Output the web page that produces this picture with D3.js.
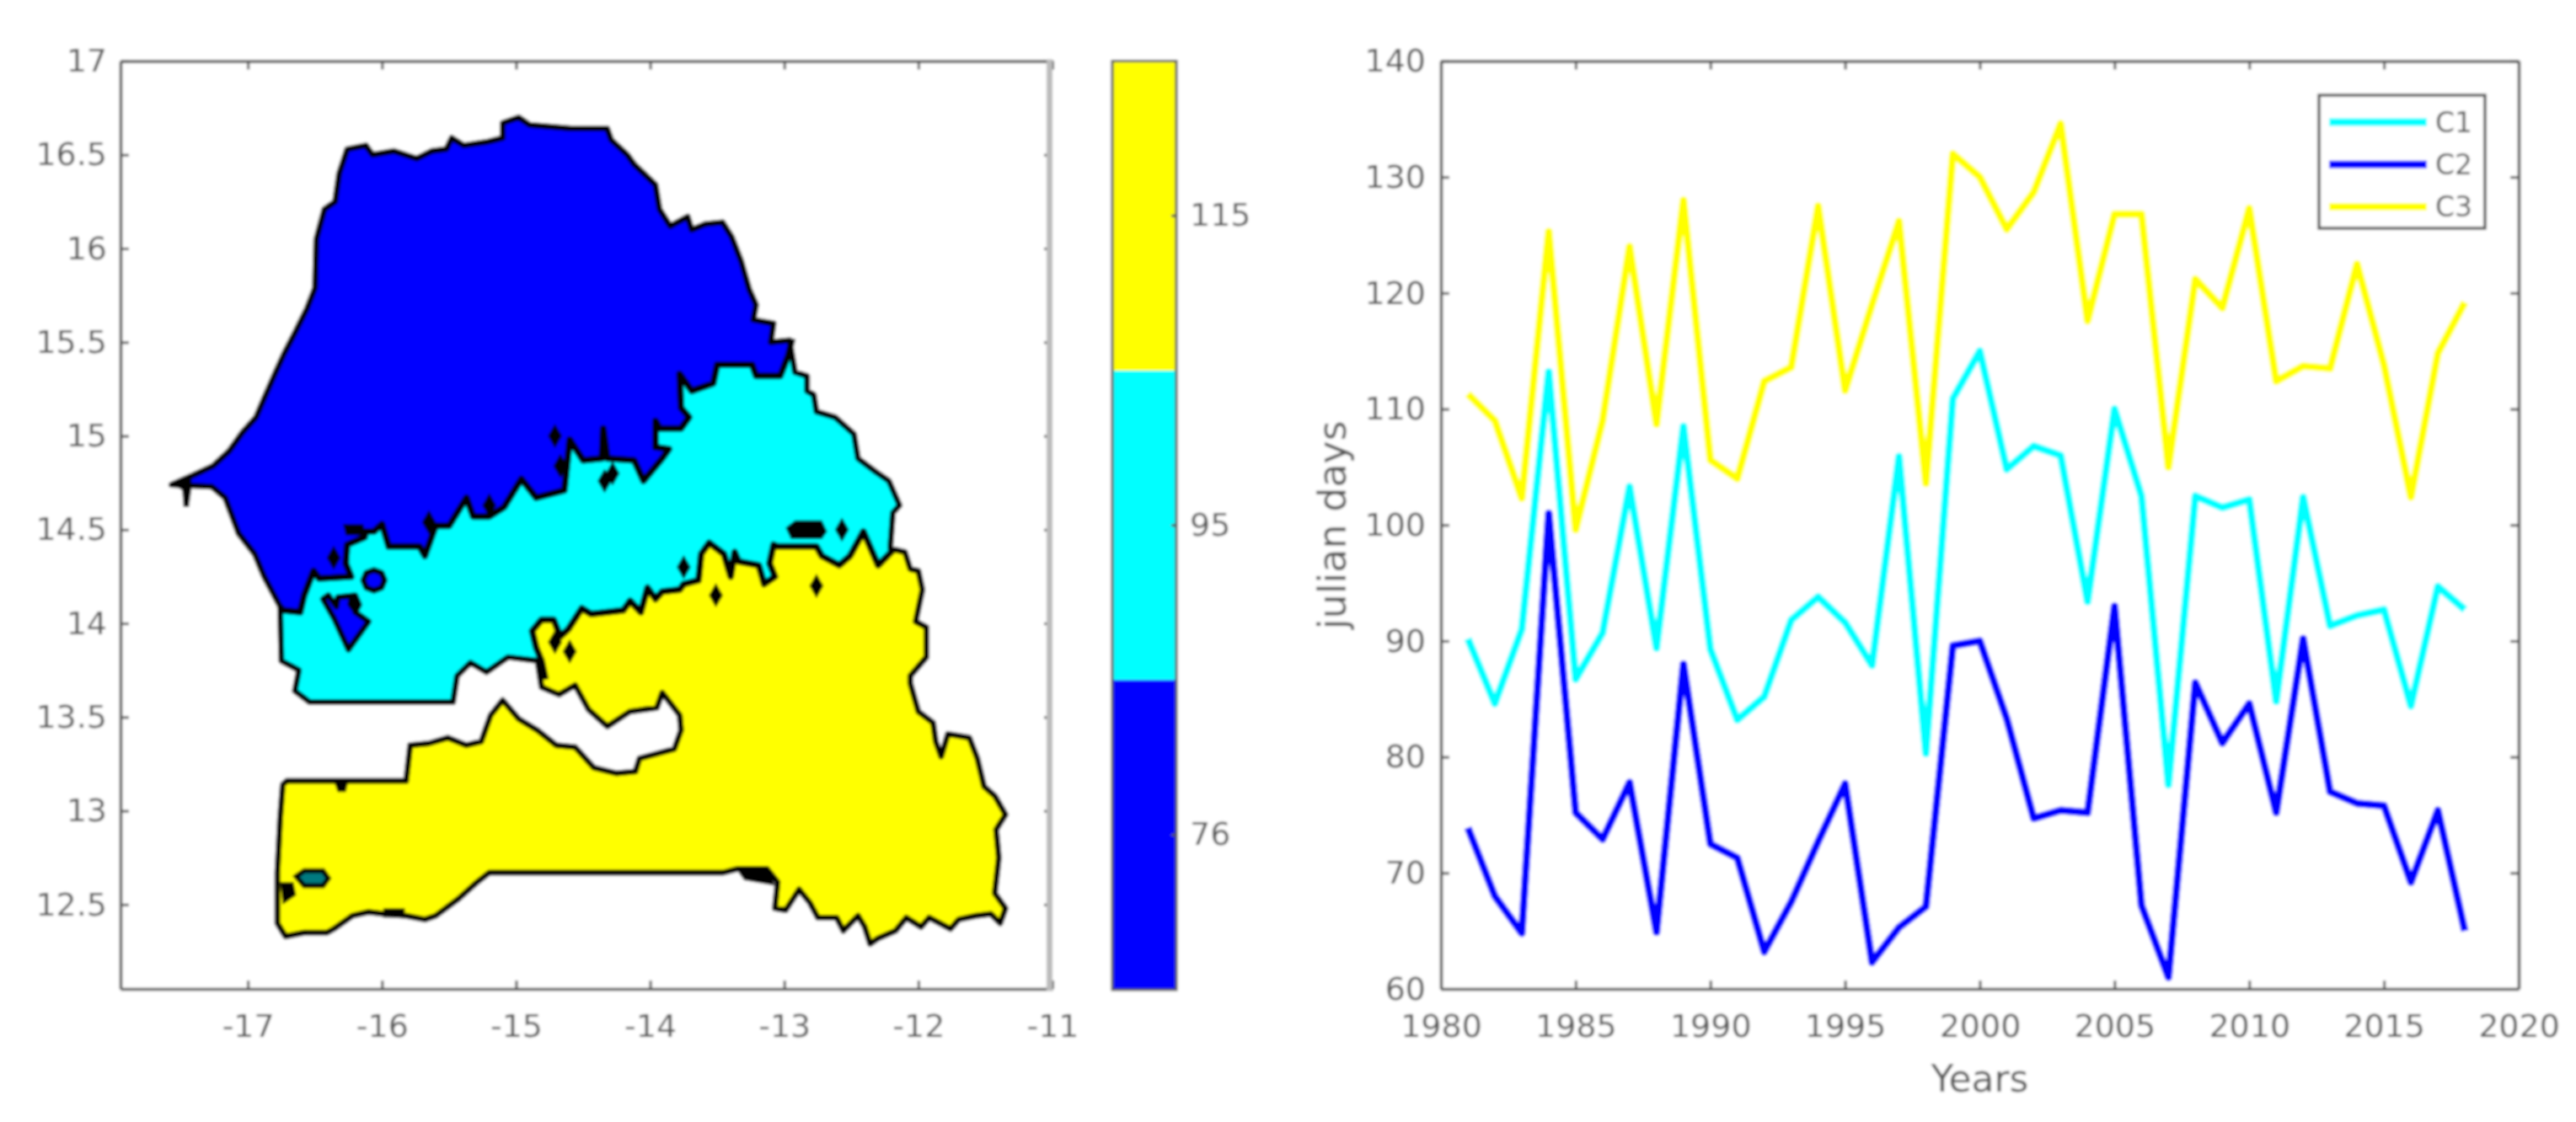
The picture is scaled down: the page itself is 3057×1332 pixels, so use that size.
<!DOCTYPE html>
<html lang="en">
<head>
<meta charset="UTF-8">
<title>Senegal onset clusters</title>
<style>
    body { margin: 0; background: #fff; }
    svg { display: block; }
    text { font-family: "DejaVu Sans", sans-serif; fill: #555; }
</style>
</head>
<body>
<div id="chart"></div>
<script src="https://d3js.org/d3.v7.min.js"></script>
<script>
// map data, all in lon/lat
const coast = [[-17.57,14.74],[-17.41,14.79],[-17.26,14.84],[-17.14,14.92],[-17.04,15.02],[-16.94,15.10],[-16.88,15.20],[-16.80,15.33],[-16.73,15.44],[-16.65,15.55],[-16.56,15.68],[-16.50,15.79],[-16.49,16.05],[-16.43,16.21],[-16.35,16.25],[-16.32,16.40],[-16.26,16.53],[-16.12,16.55],[-16.07,16.50],[-15.91,16.52],[-15.74,16.48],[-15.63,16.52],[-15.52,16.53],[-15.48,16.59],[-15.39,16.55],[-15.21,16.57],[-15.10,16.59],[-15.10,16.67],[-14.98,16.70],[-14.90,16.66],[-14.59,16.64],[-14.32,16.64],[-14.29,16.58],[-14.17,16.50],[-14.12,16.45],[-13.96,16.34],[-13.93,16.21],[-13.85,16.12],[-13.72,16.17],[-13.69,16.10],[-13.59,16.13],[-13.46,16.14],[-13.39,16.06],[-13.32,15.93],[-13.26,15.78],[-13.21,15.70],[-13.23,15.62],[-13.08,15.60],[-13.10,15.50],[-12.96,15.51],[-12.92,15.34],[-12.83,15.32],[-12.83,15.24],[-12.78,15.22],[-12.76,15.13],[-12.62,15.10],[-12.48,15.01],[-12.45,14.88],[-12.32,14.81],[-12.22,14.76],[-12.14,14.63],[-12.19,14.59],[-12.21,14.40],[-12.10,14.38],[-12.06,14.29],[-12.00,14.28],[-11.97,14.18],[-12.02,14.01],[-11.94,13.98],[-11.94,13.82],[-12.06,13.72],[-12.06,13.68],[-12.00,13.53],[-11.89,13.47],[-11.87,13.37],[-11.83,13.29],[-11.78,13.41],[-11.62,13.39],[-11.56,13.28],[-11.51,13.13],[-11.43,13.08],[-11.35,12.98],[-11.42,12.90],[-11.40,12.75],[-11.43,12.56],[-11.35,12.48],[-11.39,12.40],[-11.46,12.45],[-11.57,12.44],[-11.70,12.42],[-11.76,12.37],[-11.92,12.43],[-11.98,12.38],[-12.09,12.43],[-12.17,12.36],[-12.30,12.32],[-12.36,12.29],[-12.40,12.38],[-12.45,12.44],[-12.56,12.36],[-12.61,12.43],[-12.75,12.43],[-12.81,12.51],[-12.89,12.58],[-12.99,12.47],[-13.07,12.48],[-13.05,12.62],[-13.13,12.69],[-13.35,12.69],[-13.46,12.67],[-15.02,12.67],[-15.20,12.67],[-15.29,12.62],[-15.43,12.53],[-15.60,12.44],[-15.68,12.42],[-15.82,12.44],[-15.99,12.45],[-16.10,12.46],[-16.22,12.44],[-16.36,12.37],[-16.41,12.35],[-16.58,12.35],[-16.72,12.33],[-16.78,12.40],[-16.78,12.67],[-16.76,12.96],[-16.74,13.14],[-16.71,13.16],[-15.82,13.16],[-15.79,13.35],[-15.65,13.36],[-15.51,13.39],[-15.37,13.35],[-15.26,13.37],[-15.19,13.51],[-15.10,13.59],[-14.98,13.49],[-14.84,13.43],[-14.70,13.35],[-14.56,13.34],[-14.42,13.23],[-14.25,13.20],[-14.11,13.21],[-14.08,13.28],[-13.82,13.33],[-13.77,13.43],[-13.78,13.51],[-13.91,13.63],[-13.95,13.55],[-14.15,13.53],[-14.32,13.45],[-14.46,13.54],[-14.56,13.67],[-14.68,13.62],[-14.81,13.66],[-14.84,13.80],[-15.06,13.82],[-15.22,13.74],[-15.34,13.79],[-15.44,13.72],[-15.47,13.58],[-16.54,13.58],[-16.65,13.64],[-16.62,13.75],[-16.75,13.80],[-16.76,14.09],[-16.88,14.25],[-16.95,14.37],[-17.07,14.48],[-17.17,14.67],[-17.27,14.73]];
const blueCyanEdge = [[-16.76,14.09],[-16.74,14.07],[-16.61,14.06],[-16.58,14.15],[-16.51,14.28],[-16.47,14.24],[-16.23,14.25],[-16.27,14.32],[-16.26,14.42],[-16.13,14.46],[-16.12,14.49],[-16.06,14.49],[-16.00,14.53],[-15.95,14.41],[-15.72,14.41],[-15.68,14.36],[-15.60,14.52],[-15.50,14.52],[-15.37,14.67],[-15.32,14.57],[-15.20,14.57],[-15.09,14.62],[-14.96,14.77],[-14.85,14.67],[-14.64,14.71],[-14.60,14.98],[-14.50,14.87],[-14.36,14.88],[-14.35,15.04],[-14.32,14.88],[-14.12,14.87],[-14.05,14.76],[-13.91,14.88],[-13.86,14.93],[-13.96,14.94],[-13.96,15.08],[-13.93,15.04],[-13.77,15.04],[-13.71,15.10],[-13.77,15.15],[-13.78,15.33],[-13.69,15.24],[-13.53,15.28],[-13.50,15.38],[-13.24,15.38],[-13.21,15.32],[-13.03,15.32],[-12.97,15.43],[-12.94,15.52]];
const blueCorners = [[-11,15.52],[-11,17.2],[-18,17.2],[-18,14.07]];
const cyanYellowEdge = [[-12.19,14.39],[-12.30,14.31],[-12.41,14.49],[-12.51,14.36],[-12.59,14.31],[-12.72,14.36],[-12.76,14.41],[-13.05,14.41],[-13.08,14.42],[-13.11,14.32],[-13.07,14.25],[-13.15,14.21],[-13.19,14.31],[-13.34,14.33],[-13.37,14.38],[-13.40,14.25],[-13.45,14.37],[-13.56,14.43],[-13.62,14.37],[-13.64,14.23],[-13.75,14.21],[-13.78,14.18],[-13.91,14.17],[-13.96,14.13],[-14.02,14.19],[-14.07,14.06],[-14.15,14.12],[-14.20,14.07],[-14.44,14.05],[-14.51,14.08],[-14.61,13.97],[-14.67,13.93],[-14.72,14.02],[-14.81,14.02],[-14.88,13.96],[-14.85,13.87],[-14.81,13.80],[-14.78,13.70]];
const yellowCorners = [[-15.10,13.70],[-15.50,13.45],[-17.5,13.45],[-17.5,12],[-11,12],[-11,14.39]];
const blueIslands = [
    [[-16.14,14.23],[-16.116,14.27],[-16.06,14.285],[-16.004,14.27],[-15.98,14.23],[-16.004,14.19],[-16.06,14.175],[-16.116,14.19]],
    [[-16.44,14.13],[-16.40,14.15],[-16.34,14.09],[-16.33,14.14],[-16.20,14.15],[-16.17,14.10],[-16.20,14.06],[-16.10,14.01],[-16.25,13.86],[-16.36,14.03]]
];
const blackLumps = [
    [[-17.56,14.74],[-17.42,14.78],[-17.42,14.72],[-17.44,14.62],[-17.48,14.62],[-17.49,14.71]],
    [[-12.99,14.51],[-12.92,14.55],[-12.72,14.55],[-12.68,14.49],[-12.72,14.45],[-12.95,14.45]],
    [[-16.29,14.53],[-16.14,14.53],[-16.12,14.47],[-16.27,14.47]],
    [[-16.24,14.16],[-16.19,14.14],[-16.17,14.09],[-16.22,14.06],[-16.26,14.10]],
    [[-16.36,13.16],[-16.25,13.16],[-16.27,13.10],[-16.33,13.10]],
    [[-15.99,12.48],[-15.83,12.48],[-15.83,12.43],[-15.99,12.43]],
    [[-13.36,12.69],[-13.12,12.69],[-13.07,12.60],[-13.30,12.63]],
    [[-16.76,12.62],[-16.66,12.62],[-16.64,12.55],[-16.74,12.50]]
];
const tealPill = [[-16.64,12.65],[-16.58,12.68],[-16.44,12.68],[-16.40,12.64],[-16.44,12.60],[-16.58,12.60]];
const specks = [[-16.36,14.35],[-15.65,14.54],[-15.20,14.63],[-14.71,15.00],[-14.67,14.84],[-14.34,14.76],[-14.28,14.80],[-13.75,14.30],[-13.51,14.15],[-12.76,14.20],[-12.57,14.50],[-14.60,13.85],[-14.71,13.90]];

// colorbar
const barLevels = ["115", "95", "76"];
const barColors = ["#ffff00", "#00ffff", "#0000ff"];

// line chart
const years = d3.range(1981, 2019);
const c1 = [90.2,84.6,91,113.2,86.7,90.7,103.3,89.4,108.5,89.3,83.2,85.2,91.8,93.8,91.6,87.9,105.9,80.3,110.9,115,104.8,106.8,106,93.4,110,102.5,77.6,102.5,101.5,102.2,84.8,102.4,91.3,92.2,92.7,84.4,94.7,92.7];
const c2 = [73.9,68,64.8,101,75.2,72.9,77.8,64.9,88,72.5,71.3,63.2,67.5,72.7,77.7,62.3,65.3,67.1,89.6,90,83.3,74.7,75.4,75.2,93,67.2,61,86.4,81.2,84.6,75.2,90.2,77,76,75.8,69.2,75.4,65];
const c3 = [111.3,109,102.3,125.3,99.6,109,124,108.7,128,105.6,104,112.4,113.6,127.5,111.6,119,126.2,103.6,132,130,125.5,128.7,134.6,117.6,126.8,126.8,105,121.2,118.7,127.3,112.4,113.7,113.5,122.5,113.8,102.4,114.8,119.2];
const seriesNames = ["C1", "C2", "C3"];
const seriesColors = ["#00ffff", "#0000ff", "#ffff00"];

const width = 3057, height = 1332;
const top_ = 72.5, bottom = 1174;
const axisColor = "#555";

const svg = d3.select("#chart").append("svg").attr("width", width).attr("height", height);
svg.append("defs").append("filter").attr("id", "soft")
    .attr("x", 0).attr("y", 0).attr("width", 1).attr("height", 1)
    .attr("filterUnits", "objectBoundingBox")
    .append("feGaussianBlur").attr("stdDeviation", 1.4);
const root = svg.append("g").attr("filter", "url(#soft)");
root.append("rect").attr("width", width).attr("height", height).attr("fill", "#fff");

function styleAxis(g) {
    g.attr("font-size", 38);
    g.selectAll("path.domain").attr("stroke", axisColor).attr("stroke-width", 3.5);
    g.selectAll(".tick line").attr("stroke", axisColor).attr("stroke-width", 3);
    g.selectAll("text").attr("font-family", null).attr("fill", null);
}

function frame(x, y, xTicks, yTicks, xFmt, yFmt, xPad, yPad) {
    const x0 = x.range()[0], x1 = x.range()[1];
    root.append("g").attr("transform", `translate(0,${bottom})`)
        .call(d3.axisBottom(x).tickValues(xTicks).tickSizeInner(-10).tickSizeOuter(0).tickPadding(xPad).tickFormat(xFmt))
        .call(styleAxis);
    root.append("g").attr("transform", `translate(${x0},0)`)
        .call(d3.axisLeft(y).tickValues(yTicks).tickSizeInner(-10).tickSizeOuter(0).tickPadding(yPad).tickFormat(yFmt))
        .call(styleAxis);
    root.append("g").attr("transform", `translate(0,${top_})`)
        .call(d3.axisTop(x).tickValues(xTicks).tickSizeInner(-10).tickSizeOuter(0).tickFormat(""))
        .call(styleAxis);
    return root.append("g").attr("transform", `translate(${x1},0)`)
        .call(d3.axisRight(y).tickValues(yTicks).tickSizeInner(-10).tickSizeOuter(0).tickFormat(""))
        .call(styleAxis);
}

// left panel: map
const xMap = d3.scaleLinear().domain([-17.95, -11]).range([143, 1249]);
const yMap = d3.scaleLinear().domain([12.05, 17]).range([bottom, top_]);
const mapLine = d3.line().x(d => xMap(d[0])).y(d => yMap(d[1]));
const closed = pts => mapLine(pts) + "Z";

svg.select("defs").append("clipPath").attr("id", "country")
    .append("path").attr("d", closed(coast));

const land = root.append("g");
land.append("path").attr("d", closed(coast)).attr("fill", "#00ffff");
const clipped = land.append("g").attr("clip-path", "url(#country)");
clipped.append("path").attr("d", closed(blueCyanEdge.concat(blueCorners))).attr("fill", "#0000ff");
clipped.append("path").attr("d", closed(cyanYellowEdge.concat(yellowCorners))).attr("fill", "#ffff00");

land.selectAll("path.edge").data([blueCyanEdge, cyanYellowEdge]).join("path")
    .attr("class", "edge").attr("d", mapLine)
    .attr("fill", "none").attr("stroke", "#000").attr("stroke-width", 8).attr("stroke-linejoin", "round");
land.selectAll("path.island").data(blueIslands).join("path")
    .attr("class", "island").attr("d", closed)
    .attr("fill", "#0000ff").attr("stroke", "#000").attr("stroke-width", 7).attr("stroke-linejoin", "round");
land.selectAll("path.lump").data(blackLumps).join("path")
    .attr("class", "lump").attr("d", closed).attr("fill", "#000");
land.append("path").attr("d", closed(tealPill))
    .attr("fill", "#007a80").attr("stroke", "#000").attr("stroke-width", 6);
land.selectAll("path.speck").data(specks).join("path")
    .attr("class", "speck")
    .attr("transform", d => `translate(${xMap(d[0])},${yMap(d[1])})`)
    .attr("d", d3.symbol().type(d3.symbolDiamond).size(240))
    .attr("fill", "#000");
land.append("path").attr("d", closed(coast))
    .attr("fill", "none").attr("stroke", "#000").attr("stroke-width", 7).attr("stroke-linejoin", "round");

const mapRight = frame(xMap, yMap, d3.range(-17, -10), d3.range(12.5, 17.01, 0.5), d => String(d), d => String(d), 30, 16);
mapRight.select("path.domain").remove();
root.append("rect").attr("x", xMap(-11) - 7).attr("y", top_ - 2).attr("width", 7).attr("height", bottom - top_ + 4).attr("fill", "#bbb");

// colorbar
const yBar = d3.scaleBand().domain(barLevels).range([top_, bottom + 1]);
const barX0 = 1320, barX1 = 1396;
root.selectAll("rect.level").data(barLevels).join("rect")
    .attr("class", "level").attr("x", barX0).attr("width", barX1 - barX0)
    .attr("y", d => yBar(d)).attr("height", yBar.bandwidth())
    .attr("fill", (d, i) => barColors[i]);
root.append("rect").attr("x", barX0).attr("y", top_).attr("width", barX1 - barX0).attr("height", bottom + 1 - top_)
    .attr("fill", "none").attr("stroke", axisColor).attr("stroke-width", 3);
root.append("g").attr("transform", `translate(${barX1},0)`)
    .call(d3.axisRight(yBar).tickSizeInner(-6).tickSizeOuter(0).tickPadding(16))
    .call(styleAxis)
    .call(g => g.select("path.domain").remove());

// right panel: lines
const xYears = d3.scaleLinear().domain([1980, 2020]).range([1710, 2989]);
const yDays = d3.scaleLinear().domain([60, 140]).range([bottom, top_]);
const dayLine = d3.line().x((d, i) => xYears(years[i])).y(d => yDays(d));

root.selectAll("path.series").data([c1, c2, c3]).join("path")
    .attr("class", "series").attr("d", dayLine)
    .attr("fill", "none").attr("stroke", (d, i) => seriesColors[i]).attr("stroke-width", 9).attr("stroke-linejoin", "round");

frame(xYears, yDays, d3.range(1980, 2021, 5), d3.range(60, 141, 10), d => String(d), d => String(d), 30, 18);

root.append("text").attr("transform", `translate(${(xYears(1980) + xYears(2020)) / 2},1296)`)
    .attr("text-anchor", "middle").attr("font-size", 44).text("Years");
root.append("text").attr("transform", `translate(1597,${(bottom + top_) / 2}) rotate(-90)`)
    .attr("text-anchor", "middle").attr("font-size", 46).text("julian days");

// legend
const legend = root.append("g");
legend.append("rect").attr("x", 2752).attr("y", 113).attr("width", 197).attr("height", 158)
    .attr("fill", "#fff").attr("stroke", axisColor).attr("stroke-width", 3.5);
const yLegend = d3.scalePoint().domain(seriesNames).range([145, 245.5]);
const rows = legend.selectAll("g.row").data(seriesNames).join("g")
    .attr("class", "row").attr("transform", d => `translate(0,${yLegend(d)})`);
rows.append("line").attr("x1", 2764).attr("x2", 2880)
    .attr("stroke", (d, i) => seriesColors[i]).attr("stroke-width", 9);
rows.append("text").attr("x", 2890).attr("dy", "0.36em").attr("font-size", 33).text(d => d);
</script>
</body>
</html>
